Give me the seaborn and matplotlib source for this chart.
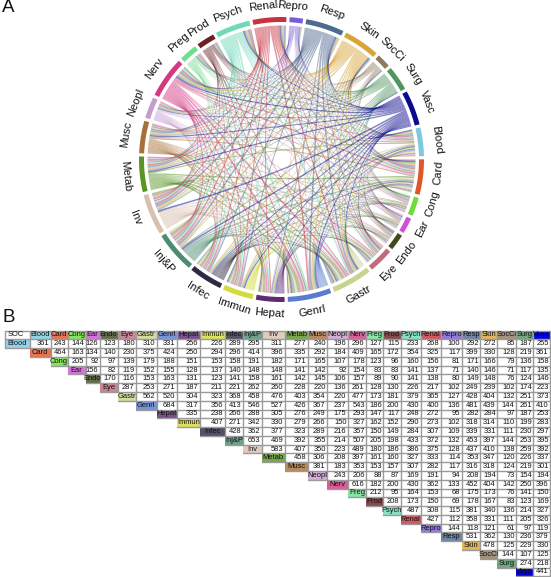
import numpy as np
import matplotlib
matplotlib.use("Agg")
import matplotlib.pyplot as plt
from matplotlib.path import Path
from matplotlib.patches import PathPatch
from matplotlib.colors import ListedColormap, to_rgba, to_rgb, to_hex
import seaborn as sns

names = ["Blood","Card","Cong","Ear","Endo","Eye","Gastr","Genrl","Hepat","Immun","Infec","Inj&P","Inv","Metab",
         "Musc","Neopl","Nerv","Preg","Prod","Psych","Renal","Repro","Resp","Skin","SocCi","Surg","Vasc"]
colors = ["#7EC8E0","#E0562A","#6FDC3C","#D24FD6","#3F4A1F","#C06C7C","#C9D48A","#5A7CCF","#5E2A70","#D4DC3A",
          "#2F2A44","#4C8C70","#D9BFAE","#5A9426","#A86F36","#C79BD0","#D33A80","#6FDF8F","#6B2222","#6FD9B8",
          "#C8323F","#7A5CD8","#4F6A8F","#D9A537","#8F7A60","#4E9660","#0A0A8F"]
table_vasc = "#0000E0"
rows = [
 [361,243,144,126,123,180,310,331,256,226,289,295,311,277,240,196,296,127,115,233,268,100,292,272,85,187,255],
 [464,163,134,140,230,375,424,250,294,296,414,396,335,292,184,409,165,172,354,325,117,399,330,128,219,361],
 [205,92,97,139,179,188,151,153,158,191,182,171,165,107,178,123,96,160,156,81,171,166,79,136,158],
 [156,82,119,152,155,128,137,140,148,148,141,142,92,154,83,83,141,137,71,140,146,71,117,135],
 [170,116,153,163,131,123,141,158,161,142,145,106,157,89,90,141,138,80,149,148,76,124,146],
 [287,253,271,187,211,221,262,260,228,220,136,261,128,130,226,217,102,249,239,102,174,223],
 [562,520,304,323,368,458,476,403,354,220,477,173,181,379,365,127,428,404,132,251,373],
 [684,317,356,413,546,527,426,367,237,543,186,200,430,400,136,481,439,144,261,410],
 [335,238,266,288,305,276,249,175,293,147,117,248,272,95,282,284,97,187,253],
 [407,271,342,330,279,266,150,327,162,152,290,273,102,318,314,110,199,283],
 [428,362,377,323,289,216,357,150,149,284,307,109,339,331,111,230,297],
 [653,469,392,355,214,507,205,198,433,372,132,453,397,144,253,395],
 [583,407,350,223,489,180,186,386,375,128,437,410,138,259,392],
 [458,306,208,397,161,160,327,333,114,353,347,120,226,337],
 [381,183,353,153,157,307,282,117,316,318,124,219,301],
 [243,206,88,87,169,191,94,208,194,73,154,194],
 [616,182,200,430,362,133,452,404,142,250,396],
 [212,95,164,153,68,175,173,76,141,150],
 [208,173,150,69,178,167,83,123,169],
 [487,308,115,381,340,136,214,327],
 [427,112,358,331,111,205,326],
 [144,118,121,61,97,119],
 [531,362,130,236,379],
 [478,125,229,330],
 [144,107,125],
 [274,218],
 [441],
]
col_edges_px = [5,29.5,50.5,67.5,85.5,99.5,117.5,136,156.5,176.5,200,225,242.5,261.5,285,308,327,348,366,383,
                400.5,420.7,440.7,461.7,480,497,516,533,550]
label_nudge = {"Card": 2.5, "Cong": 3, "Ear": 1.5, "Endo": -1, "Eye": -1, "Renal": 2, "Repro": 2, "Resp": -1,
               "Inv": -1, "SocCi": 1, "Surg": -2}

W, H = 551, 577
sns.set_theme(style="white")
plt.rcParams["font.family"] = ["Liberation Sans", "DejaVu Sans"]
palette = sns.color_palette(colors)
n = len(names)

M = np.zeros((n, n))
for i, r in enumerate(rows):
    for k, v in enumerate(r):
        M[i, i + k] = v
        M[i + k, i] = v

fig = plt.figure(figsize=(W / 100, H / 100), dpi=100)
fig.patch.set_facecolor("white")

# ---------- Panel A: chord diagram ----------
ax = fig.add_axes([0, 1 - 320 / H, 1, 320 / H])
ax.set_xlim(0, W); ax.set_ylim(320, 0); ax.axis("off")
cx, cy, R_out, R_in, R_link = 281.5, 159.5, 142.5, 137.5, 134.0
gap = 1.3
tot = M.sum(axis=1) - np.diag(M)
scale = (360 - n * gap) / tot.sum()
start_deg = 13.0

def pt(deg, r):
    a = np.deg2rad(deg)
    return np.array([cx + r * np.cos(a), cy - r * np.sin(a)])

def arc(d0, d1, r, k=8):
    return [pt(d, r) for d in np.linspace(d0, d1, k)]

sec = []
a = start_deg
for i in range(n):
    a0, a1 = a, a - tot[i] * scale
    sec.append((a0, a1))
    a = a1 - gap

for i in range(n):
    a0, a1 = sec[i]
    outer = arc(a0, a1, R_out, 16) + arc(a1, a0, R_in, 16)
    ax.add_patch(plt.Polygon(outer, closed=True, fc=palette[i], ec="none"))
    mid = (a0 + a1) / 2 + label_nudge.get(names[i], 0)
    m = mid % 360
    x, y = pt(mid, 154 + 3 * abs(np.cos(np.deg2rad(m))))
    rot = m - 90 if m < 180 else m + 90
    ax.text(x, y, names[i], fontsize=8.0, rotation=rot, rotation_mode="anchor",
            ha="center", va="center", color="#111111")

feet = {}
for i in range(n):
    pos = sec[i][1]
    for s in range(1, n):
        j = (i + s) % n
        w = M[i, j] * scale
        feet[(i, j)] = (pos, pos + w)
        pos += w

CA, CB = 0.8, 0.56   # radial shares of the inner control points of the link curves
t = np.linspace(0, 1, 36)[:, None]
w_p = (1 - t) ** 5
w_a = 5 * t * (1 - t) ** 4
w_b = 10 * t ** 2 * (1 - t) ** 3
w_c = 10 * t ** 3 * (1 - t) ** 2
w_d = 5 * t ** 4 * (1 - t)
w_q = t ** 5

def edge(d0, d1, off):
    P, Q = pt(d0, R_link), pt(d1, R_link)
    return (w_p * P + w_a * pt(d0, CA * R_link) + w_b * (pt(d0, CB * R_link) + off)
            + w_c * (pt(d1, CB * R_link) + off) + w_d * pt(d1, CA * R_link) + w_q * Q)

def ribbon(p0, p1, q0, q1):
    pm, qm = (p0 + p1) / 2, (q0 + q1) / 2
    diff = (qm - pm) % 360
    if diff > 180:
        diff = 360 - diff
        bis = qm + diff / 2
    else:
        bis = pm + diff / 2
    half = np.deg2rad(diff / 2)
    shift = pt(bis, 13.0 * np.sin(half)) - np.array([cx, cy])
    e1 = edge(p1, q0, shift)
    e2 = edge(q1, p0, shift)
    base = e1[18] - e2[18]
    size = np.hypot(*base)
    nrm = base / size if size > 1e-6 else np.zeros(2)
    width = R_link * np.deg2rad(p1 - p0)
    delta = max(0.0, 0.9 * width - size) / 1.25
    e1 = edge(p1, q0, shift + delta * nrm)
    e2 = edge(q1, p0, shift - delta * nrm)
    verts = np.vstack([np.array(arc(p0, p1, R_link, 4)), e1, np.array(arc(q0, q1, R_link, 4)), e2])
    return Path(verts, closed=False)

for i in range(n):
    for j in range(i + 1, n):
        p0, p1 = feet[(i, j)]
        q0, q1 = feet[(j, i)]
        ax.add_patch(PathPatch(ribbon(p0, p1, q0, q1), fc=to_rgba(palette[j], 0.5), ec="none", lw=0))

ax.text(2, 8, "A", fontsize=13.5, va="center", ha="left", color="#111111")

# ---------- Panel B: table via seaborn heatmap ----------
top, row_h = 330.5, 8.78
bottom = top + row_h * (n + 1)
x0, x1 = col_edges_px[0], col_edges_px[-1]
axt = fig.add_axes([x0 / W, 1 - bottom / H, (x1 - x0) / W, (bottom - top) / H])
ci = np.full((n + 1, n + 1), np.nan)
ci[0, 0] = 0
for i in range(n):
    ci[0, i + 1] = i + 1
    ci[i + 1, i] = i + 1
    for j in range(i + 1, n + 1):
        ci[i + 1, j] = 0
def soft(c):
    return to_hex(0.82 * np.array(to_rgb(c)) + 0.18)
tab_cols = ["#FFFFFF"] + [table_vasc if nm == "Vasc" else soft(colors[k]) for k, nm in enumerate(names)]
sns.heatmap(ci, ax=axt, cmap=ListedColormap(tab_cols), vmin=-0.5, vmax=n + 0.5, cbar=False,
            mask=np.isnan(ci), square=False, xticklabels=False, yticklabels=False)
edges = np.array(col_edges_px, float)
idx = np.arange(n + 2)
axt.set_xscale("function", functions=(lambda v: np.interp(v, idx, edges), lambda v: np.interp(v, edges, idx)))
axt.set_xlim(0, n + 1)
axt.set_ylim(n + 1, 0)
axt.tick_params(left=False, bottom=False, labelleft=False, labelbottom=False, which="both")
for s in axt.spines.values():
    s.set_visible(False)
grid = dict(color="#9A9A9A", lw=1.0, clip_on=False, zorder=2)
axt.plot([0, n + 1], [0, 0], **grid)
for r in range(1, n + 2):
    axt.plot([max(r - 2, 0), n + 1], [r, r], **grid)
axt.plot([0, 0], [0, 2], **grid)
for c in range(1, n + 2):
    axt.plot([c, c], [0, min(c + 1, n + 1)], **grid)
tkw = dict(fontsize=5.4, color="#111111", va="center", zorder=3)
axt.text(0.12, 0.5, "SOC", ha="left", **tkw)
for i, nm in enumerate(names):
    axt.text(i + 1.5, 0.5, nm, ha="center", **tkw)
    axt.text(i + 0.5, i + 1.5, nm, ha="center", **tkw)
    for k, v in enumerate(rows[i]):
        axt.text(i + k + 1.93, i + 1.5, str(v), ha="right", **tkw)
fig.text(2 / W, 1 - 317.5 / H, "B", fontsize=13.5, va="center", ha="left", color="#111111")
fig.savefig("out.png", dpi=100)
